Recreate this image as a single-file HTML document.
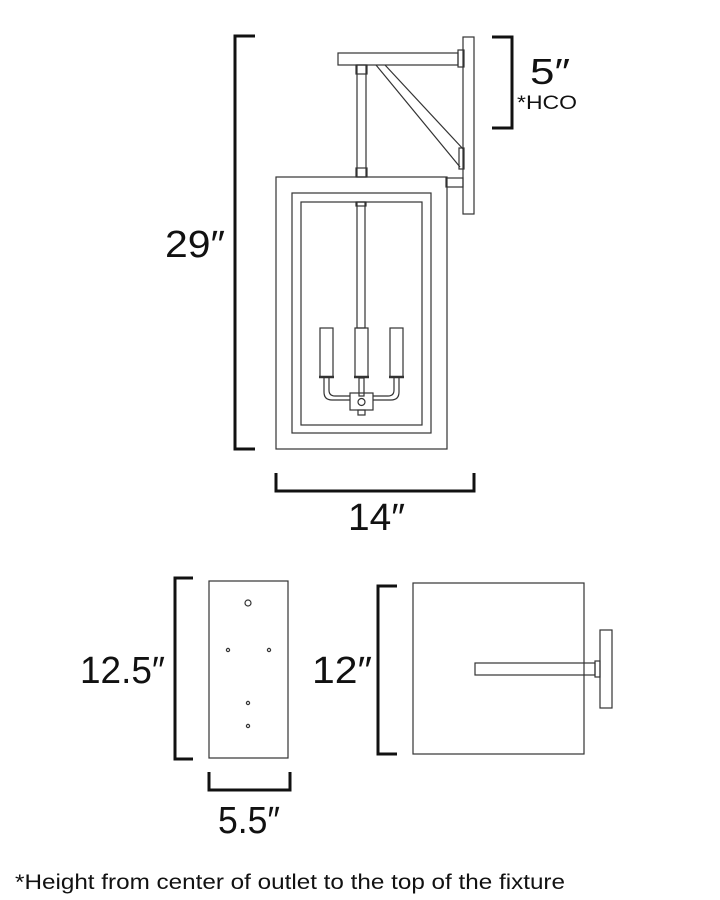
<!DOCTYPE html>
<html><head><style>
html,body{margin:0;padding:0;background:#fff;}
svg{display:block;}
text{font-family:"Liberation Sans",sans-serif;fill:#111;}
</style></head><body>
<svg width="720" height="900" viewBox="0 0 720 900" xmlns="http://www.w3.org/2000/svg">
<g fill="none" stroke="#333" stroke-width="1.2">
<rect x="463" y="37" width="11" height="177"/>
<rect x="338" y="53" width="120" height="12"/>
<rect x="458" y="50" width="6" height="17"/>
<rect x="357" y="65" width="9" height="112"/>
<rect x="356" y="65" width="11" height="9"/>
<rect x="356" y="168" width="11" height="9"/>
<line x1="376" y1="65" x2="460" y2="167"/>
<line x1="385" y1="65" x2="464" y2="150"/>
<rect x="459" y="148" width="5" height="21"/>
<rect x="446" y="178" width="17" height="9"/>
<rect x="276" y="177" width="171" height="272"/>
<rect x="292" y="193" width="139" height="240"/>
<rect x="301" y="202" width="121" height="223"/>
<rect x="357" y="202" width="8" height="126"/>
<rect x="356" y="202" width="10" height="4"/>
<rect x="320" y="328" width="13" height="49"/>
<rect x="355" y="328" width="13" height="49"/>
<rect x="390" y="328" width="13" height="49"/>
<line x1="319" y1="377" x2="334" y2="377" stroke-width="2.5"/>
<line x1="354" y1="377" x2="369" y2="377" stroke-width="2.5"/>
<line x1="389" y1="377" x2="404" y2="377" stroke-width="2.5"/>
<path d="M324 378 V392 Q324 400 332 400 H350"/>
<path d="M329 378 V390 Q329 396 335 396 H350"/>
<path d="M399 378 V392 Q399 400 391 400 H373"/>
<path d="M394 378 V390 Q394 396 388 396 H373"/>
<rect x="359" y="378" width="5" height="18"/>
<rect x="350" y="393" width="23" height="17"/>
<circle cx="361.5" cy="402" r="3.5"/>
<rect x="358" y="410" width="7" height="5"/>
<rect x="209" y="581" width="79" height="177"/>
<circle cx="248" cy="603" r="3"/>
<circle cx="228" cy="650" r="1.6"/>
<circle cx="269" cy="650" r="1.6"/>
<circle cx="248" cy="703" r="1.6"/>
<circle cx="248" cy="726" r="1.6"/>
<rect x="413" y="583" width="171" height="171"/>
<rect x="475" y="663" width="120" height="12"/>
<rect x="595" y="661" width="5" height="16"/>
<rect x="600" y="630" width="12" height="78"/>
</g>
<g fill="none" stroke="#111" stroke-width="3">
<path d="M255 36 H235 V449 H255"/>
<path d="M492 37 H512 V128 H492"/>
<path d="M276 473 V491 H474 V473"/>
<path d="M193 578 H175 V759 H193"/>
<path d="M397 586 H378 V754 H397"/>
<path d="M209 772 V790 H290 V772"/>
</g>
<text x="165" y="257" font-size="38" textLength="60" lengthAdjust="spacingAndGlyphs">29″</text>
<text x="530" y="84" font-size="36" textLength="40" lengthAdjust="spacingAndGlyphs">5″</text>
<text x="517" y="109" font-size="19" textLength="60" lengthAdjust="spacingAndGlyphs">*HCO</text>
<text x="348" y="530" font-size="38" textLength="57" lengthAdjust="spacingAndGlyphs">14″</text>
<text x="80" y="683" font-size="38" textLength="85" lengthAdjust="spacingAndGlyphs">12.5″</text>
<text x="312" y="683" font-size="38" textLength="60" lengthAdjust="spacingAndGlyphs">12″</text>
<text x="218" y="833" font-size="38" textLength="62" lengthAdjust="spacingAndGlyphs">5.5″</text>
<text x="15" y="889" font-size="21" textLength="550" lengthAdjust="spacingAndGlyphs">*Height from center of outlet to the top of the fixture</text>
</svg>
</body></html>
